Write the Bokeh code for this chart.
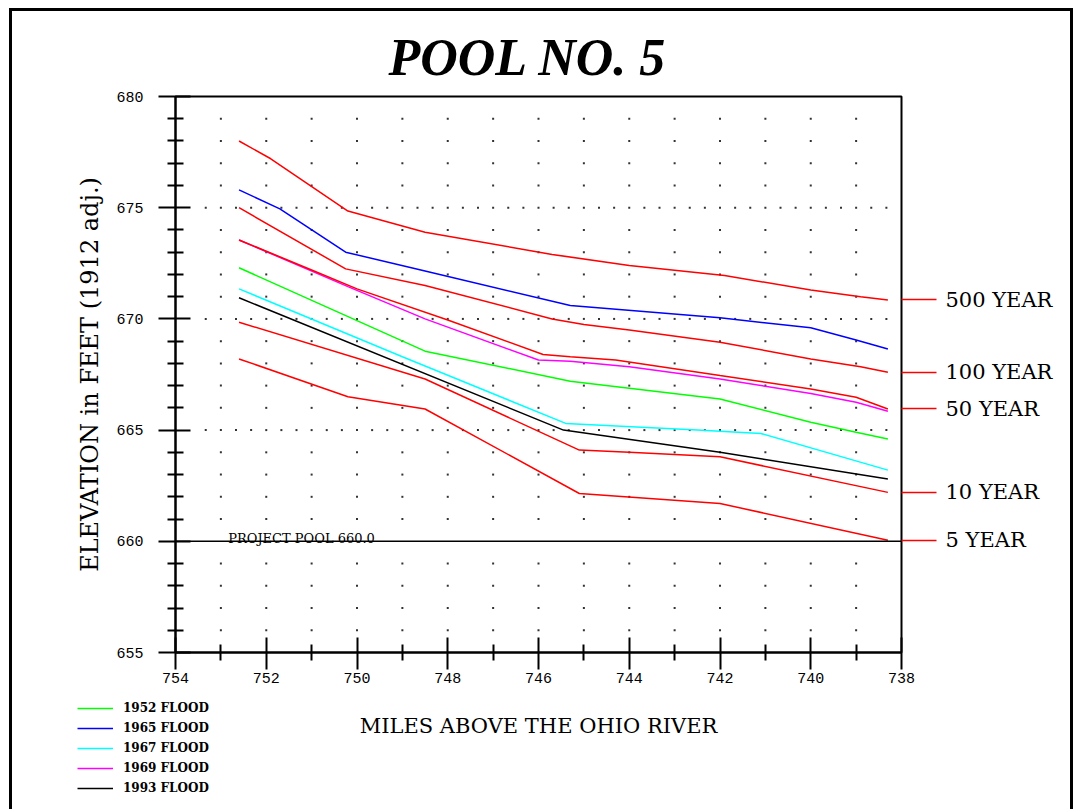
from bokeh.plotting import figure
from bokeh.layouts import column
from bokeh.models import (Range1d, FixedTicker, Label, Legend, LegendItem, Span,
                          LinearAxis)
from bokeh.embed import file_html
from bokeh.resources import INLINE

# ---------------- data ----------------
TITLE = "POOL NO. 5"
X_LABEL = "MILES ABOVE THE OHIO RIVER"
Y_LABEL = "ELEVATION in FEET (1912 adj.)"
POOL_LABEL = "PROJECT POOL 660.0"
POOL_ELEV = 660.0

x_ticks = [754, 752, 750, 748, 746, 744, 742, 740, 738]
x_minor = [753, 751, 749, 747, 745, 743, 741, 739]
y_ticks = [655, 660, 665, 670, 675, 680]
y_minor = [656, 657, 658, 659, 661, 662, 663, 664, 666, 667, 668, 669,
           671, 672, 673, 674, 676, 677, 678, 679]

# recorded floods
miles_1952 = [752.6, 748.5, 745.3, 742.0, 740.0, 739.0, 738.3]
elev_1952 = [672.3, 668.55, 667.2, 666.4, 665.35, 664.9, 664.6]
miles_1965 = [752.6, 751.7, 750.25, 748.5, 745.3, 742.0, 740.0, 739.0, 738.3]
elev_1965 = [675.8, 674.95, 673.0, 672.15, 670.6, 670.05, 669.6, 669.05, 668.65]
miles_1967 = [752.6, 749.0, 745.4, 742.5, 741.1, 738.3]
elev_1967 = [671.35, 668.3, 665.3, 665.0, 664.85, 663.2]
miles_1969 = [752.6, 750.2, 748.5, 746.0, 745.3, 744.0, 742.0, 740.0, 739.0, 738.3]
elev_1969 = [673.55, 671.45, 670.0, 668.15, 668.1, 667.85, 667.3, 666.65, 666.25, 665.85]
miles_1993 = [752.6, 745.45, 742.0, 738.3]
elev_1993 = [670.95, 665.0, 664.0, 662.8]

flood_names = ["1952 FLOOD", "1965 FLOOD", "1967 FLOOD", "1969 FLOOD", "1993 FLOOD"]
flood_colors = ["#00ff00", "#0000ff", "#00ffff", "#ff00ff", "#000000"]

# frequency profiles
miles_500 = [752.6, 751.9, 750.2, 748.5, 745.7, 744.0, 741.9, 740.0, 738.9, 738.3]
elev_500 = [678.0, 677.2, 674.85, 673.9, 672.9, 672.4, 671.95, 671.3, 671.0, 670.85]
miles_100 = [752.6, 750.25, 748.5, 745.7, 745.0, 744.0, 742.0, 740.0, 738.9, 738.3]
elev_100 = [675.0, 672.25, 671.5, 670.0, 669.75, 669.5, 668.95, 668.2, 667.85, 667.6]
miles_50 = [752.6, 751.0, 750.0, 748.0, 745.9, 745.3, 744.3, 742.0, 740.0, 739.0, 738.3]
elev_50 = [673.55, 672.2, 671.35, 669.95, 668.4, 668.3, 668.15, 667.45, 666.85, 666.48, 665.95]
miles_10 = [752.6, 748.5, 745.1, 744.0, 742.0, 738.3]
elev_10 = [669.85, 667.3, 664.1, 664.0, 663.8, 662.2]
miles_5 = [752.6, 750.2, 748.5, 745.1, 742.0, 738.3]
elev_5 = [668.2, 666.5, 665.95, 662.15, 661.7, 660.05]

freq_names = ["500 YEAR", "100 YEAR", "50 YEAR", "10 YEAR", "5 YEAR"]
FREQ_COLOR = "#ff0000"

# ---------------- layout ----------------
W = 1075
H_MAIN, H_BOT = 692, 117
FL, FT, FW, FH = 175, 96, 726, 556          # frame in page px
X0, X1, Y0, Y1 = 754, 738, 655, 680
PPM = FW / (X0 - X1)
PPF = FH / (Y1 - Y0)


def mx(px):   # page px -> mile (placement helper for in-frame text)
    return X0 - (px - FL) / PPM


def fy(py):   # page px -> feet
    return Y1 - (py - FT) / PPF


p = figure(width=W, height=H_MAIN, output_backend="svg", toolbar_location=None,
           x_range=Range1d(X0, X1), y_range=Range1d(Y0, Y1), title=TITLE,
           min_border_left=FL, min_border_right=W - FL - FW,
           min_border_top=FT, min_border_bottom=H_MAIN - FT - FH)
p.frame_align = False
p.title.align = "left"
p.title.offset = 213
p.title.standoff = 22
p.title.text_font = "Liberation Serif"
p.title.text_font_style = "bold italic"
p.title.text_font_size = "52px"
p.title.text_color = "black"
p.background_fill_color = None
p.border_fill_color = None
p.outline_line_color = "black"
p.outline_line_width = 2
p.grid.visible = False

for ax in (p.xaxis[0], p.yaxis[0]):
    ax.axis_line_width = 2
    ax.major_tick_line_width = 2
    ax.minor_tick_line_width = 2
    ax.major_tick_in = 15
    ax.major_tick_out = 17
    ax.minor_tick_in = 8
    ax.minor_tick_out = 8
    ax.major_label_text_font = "Liberation Mono"
    ax.major_label_text_font_size = "15px"
    ax.major_label_text_color = "black"
p.xaxis.ticker = FixedTicker(ticks=x_ticks, minor_ticks=x_minor)
p.yaxis.ticker = FixedTicker(ticks=y_ticks, minor_ticks=y_minor)
p.xaxis.major_label_standoff = 3
p.yaxis.major_label_standoff = 15
p.yaxis.axis_label = Y_LABEL
p.yaxis.axis_label_text_font = "DejaVu Serif"
p.yaxis.axis_label_text_font_style = "normal"
p.yaxis.axis_label_text_font_size = "24px"
p.yaxis.axis_label_text_color = "black"
p.yaxis.axis_label_standoff = 9

# right-hand return-period axis
last_vals = [elev_500[-1], elev_100[-1], elev_50[-1], elev_10[-1], elev_5[-1]]
ra = LinearAxis(ticker=FixedTicker(ticks=last_vals, minor_ticks=[]),
                major_label_overrides=dict(zip(last_vals, freq_names)),
                axis_line_color=None, major_tick_line_color=FREQ_COLOR,
                major_tick_line_width=1.5, major_tick_in=0, major_tick_out=35,
                minor_tick_line_color=None, major_label_standoff=9,
                major_label_text_font="DejaVu Serif",
                major_label_text_font_size="21px",
                major_label_text_color="black")
p.add_layout(ra, "right")

# dotted grid
dot_x, dot_y = [], []
for yv in y_minor + [665, 670, 675]:
    if yv % 5 == 0:
        xs = [X0 - k / 3 for k in range(2, 48)]
    else:
        xs = list(range(X0 - 1, X1, -1))
    dot_x += xs
    dot_y += [yv] * len(xs)
p.scatter(dot_x, dot_y, marker="square", size=2, fill_color="#333333",
          line_color=None)

# project pool
p.add_layout(Span(location=POOL_ELEV, dimension="width", line_color="black",
                  line_width=1.5))
p.add_layout(Label(x=mx(227.7), y=fy(538.3), text=POOL_LABEL,
                   text_font="DejaVu Serif", text_font_size="13px",
                   text_baseline="alphabetic", text_align="left",
                   text_color="black"))

# flood lines
flood_data = [(miles_1952, elev_1952), (miles_1965, elev_1965),
              (miles_1967, elev_1967), (miles_1969, elev_1969),
              (miles_1993, elev_1993)]
for (xs, ys), c in zip(flood_data, flood_colors):
    p.line(xs, ys, line_color=c, line_width=1.5)

# frequency lines
freq_data = [(miles_500, elev_500), (miles_100, elev_100), (miles_50, elev_50),
             (miles_10, elev_10), (miles_5, elev_5)]
for xs, ys in freq_data:
    p.line(xs, ys, line_color=FREQ_COLOR, line_width=1.5)

# ---------------- bottom strip: legend + x label ----------------
pb = figure(width=W, height=H_BOT, output_backend="svg", toolbar_location=None,
            x_range=Range1d(0, W), y_range=Range1d(H_MAIN + H_BOT, H_MAIN),
            x_axis_type=None, y_axis_type=None, min_border=0)
pb.frame_align = False
pb.outline_line_color = None
pb.background_fill_color = None
pb.border_fill_color = None
pb.grid.visible = False

nan = float("nan")
proxies = [pb.line(x=[nan], y=[nan], line_color=c, line_width=1.5)
           for c in flood_colors]
legend = Legend(items=[LegendItem(label=n, renderers=[r])
                       for n, r in zip(flood_names, proxies)],
                location=(77, 11), orientation="vertical",
                glyph_width=36, glyph_height=20, label_height=20, spacing=0,
                padding=0, margin=0, label_standoff=10,
                border_line_color=None, background_fill_alpha=0,
                label_text_font="DejaVu Serif", label_text_font_style="bold",
                label_text_font_size="12px", label_text_color="black")
pb.add_layout(legend)
pb.add_layout(Label(x=(FL + FL + FW) / 2, y=725, text=X_LABEL,
                    text_align="center", text_baseline="alphabetic",
                    text_font="DejaVu Serif", text_font_size="21px",
                    text_color="black"))

frame_css = {
    "background-image": "linear-gradient(#000,#000), linear-gradient(#000,#000), "
                        "linear-gradient(#000,#000)",
    "background-repeat": "no-repeat",
    "background-position": "9px 8px, 9px 8px, 1070px 8px",
    "background-size": "3px 100%, 1064px 3px, 3px 100%",
    "background-color": "white",
}
layout = column(p, pb, spacing=0, styles=frame_css)

open("out.html", "w").write(file_html(layout, INLINE))
